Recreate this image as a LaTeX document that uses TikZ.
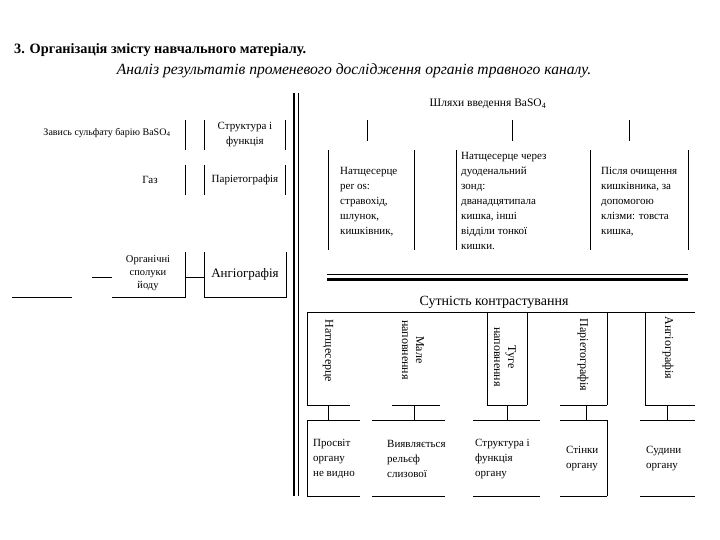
\documentclass[tikz,border=0pt]{standalone}
\usepackage{fontspec}
\setmainfont{Liberation Serif}
\begin{document}
\begin{tikzpicture}[x=1pt,y=-1pt,
  txt/.style={font=\fontsize{11}{15}\selectfont,align=left,inner sep=0pt},
  ctxt/.style={txt,align=center},
  rtxt/.style={font=\fontsize{12}{14}\selectfont,rotate=-90,align=center,inner sep=0pt},
  ln/.style={line width=0.6pt}]
\useasboundingbox (0,0) rectangle (720,540);
% titles
\node[anchor=west,inner sep=0pt,font=\bfseries\fontsize{14.3}{16}\selectfont] (title) at (14,50) {3. Організація змісту навчального матеріалу.};
\node[inner sep=0pt,font=\itshape\fontsize{15.6}{18}\selectfont] (subtitle) at (354,71) {Аналіз результатів променевого дослідження органів травного каналу.};
% divider
\draw[line width=2.6pt] (294,93) -- (294,496);
\draw[line width=0.8pt] (298.5,93) -- (298.5,496);
% left part
\node[ctxt,font=\fontsize{10}{11}\selectfont] (baso) at (107,133) {Завись сульфату барію BaSO\textsubscript{4}};
\node[ctxt] (struct) at (245,135) {Структура і\\функція};
\node[ctxt] (gas) at (150,180) {Газ};
\node[ctxt] (pariet) at (245,180) {Паріетографія};
\node[ctxt,font=\fontsize{10.5}{13}\selectfont] (iodine) at (148,273) {Органічні\\сполуки\\йоду};
\node[ctxt,font=\fontsize{13}{15}\selectfont] (angio) at (245,274) {Ангіографія};
\foreach \x in {185,204,285} {
  \draw[ln] (\x,120) -- (\x,150);
  \draw[ln] (\x,165) -- (\x,195);
}
\draw[ln] (12,297) -- (72,297);
\draw[ln] (92,277) -- (112,277);
\draw[ln] (112,297) -- (185,297) -- (185,252);
\draw[ln] (204,252) -- (204,297) -- (286,297) -- (286,252);
\coordinate (iodR) at (185,277);
\coordinate (angL) at (204,277);
\draw[ln] (iodR) -- (angL);
% routes of BaSO4
\node[font=\fontsize{11.5}{14}\selectfont,inner sep=0pt] (routes) at (488,104) {Шляхи введення BaSO\textsubscript{4}};
\coordinate (r1) at (367,120); \coordinate (r1b) at (367,141);
\coordinate (r2) at (512,120); \coordinate (r2b) at (512,141);
\coordinate (r3) at (629,120); \coordinate (r3b) at (629,141);
\draw[ln] (r1) -- (r1b);
\draw[ln] (r2) -- (r2b);
\draw[ln] (r3) -- (r3b);
\foreach \x in {328,414,456,590,688}
  \draw[ln] (\x,150) -- (\x,250);
\node[txt,anchor=west] (peros) at (340,202) {Натщесерце\\per os:\\стравохід,\\шлунок,\\кишківник,};
\node[txt,anchor=west] (probe) at (461,201) {Натщесерце через\\дуоденальний\\зонд:\\дванадцятипала\\кишка, інші\\відділи тонкої\\кишки.};
\node[txt,anchor=west] (enema) at (601,202) {Після очищення\\кишківника, за\\допомогою\\клізми: товста\\кишка,};
% double rule
\draw[line width=3pt] (327,279) -- (688,279);
\draw[line width=0.8pt] (327,274.5) -- (688,274.5);
% contrasting
\node[font=\fontsize{14}{16}\selectfont,inner sep=0pt] (essence) at (494,302) {Сутність контрастування};
\draw[ln] (307,312) -- (695,312);
\foreach \x in {307,487,527,607,645}
  \draw[ln] (\x,312) -- (\x,405);
\draw[ln] (307,405) -- (350,405);
\draw[ln] (392,405) -- (440,405);
\draw[ln] (487,405) -- (527,405);
\draw[ln] (560,405) -- (607,405);
\draw[ln] (645,405) -- (695,405);
\node[rtxt] (fast) at (328,351) {Натщесерце};
\node[rtxt] (small) at (413,350) {Мале\\наповнення};
\node[rtxt] (tight) at (505,357) {Туге\\наповнення};
\node[rtxt] (pariet2) at (583,355) {Паріетографія};
\node[rtxt] (angio2) at (668,348) {Ангіографія};
\foreach \x in {328,414,507,586,667}
  \draw[ln] (\x,405) -- (\x,420);
% results
\foreach \a/\b in {307/360,372/445,473/540,560/607,640/695} {
  \draw[ln] (\a,420) -- (\b,420);
  \draw[ln] (\a,496) -- (\b,496);
}
\draw[ln] (307,420) -- (307,496);
\draw[ln] (607,420) -- (607,496);
\node[txt,anchor=west] (lumen) at (313,459) {Просвіт\\органу\\не видно};
\node[txt,anchor=west] (relief) at (387,459) {Виявляється\\рельєф\\слизової};
\node[txt,anchor=west] (func) at (475,459) {Структура і\\функція\\органу};
\node[txt,anchor=west] (walls) at (566,459) {Стінки\\органу};
\node[txt,anchor=west] (vessels) at (646,459) {Судини\\органу};
\end{tikzpicture}
\end{document}
